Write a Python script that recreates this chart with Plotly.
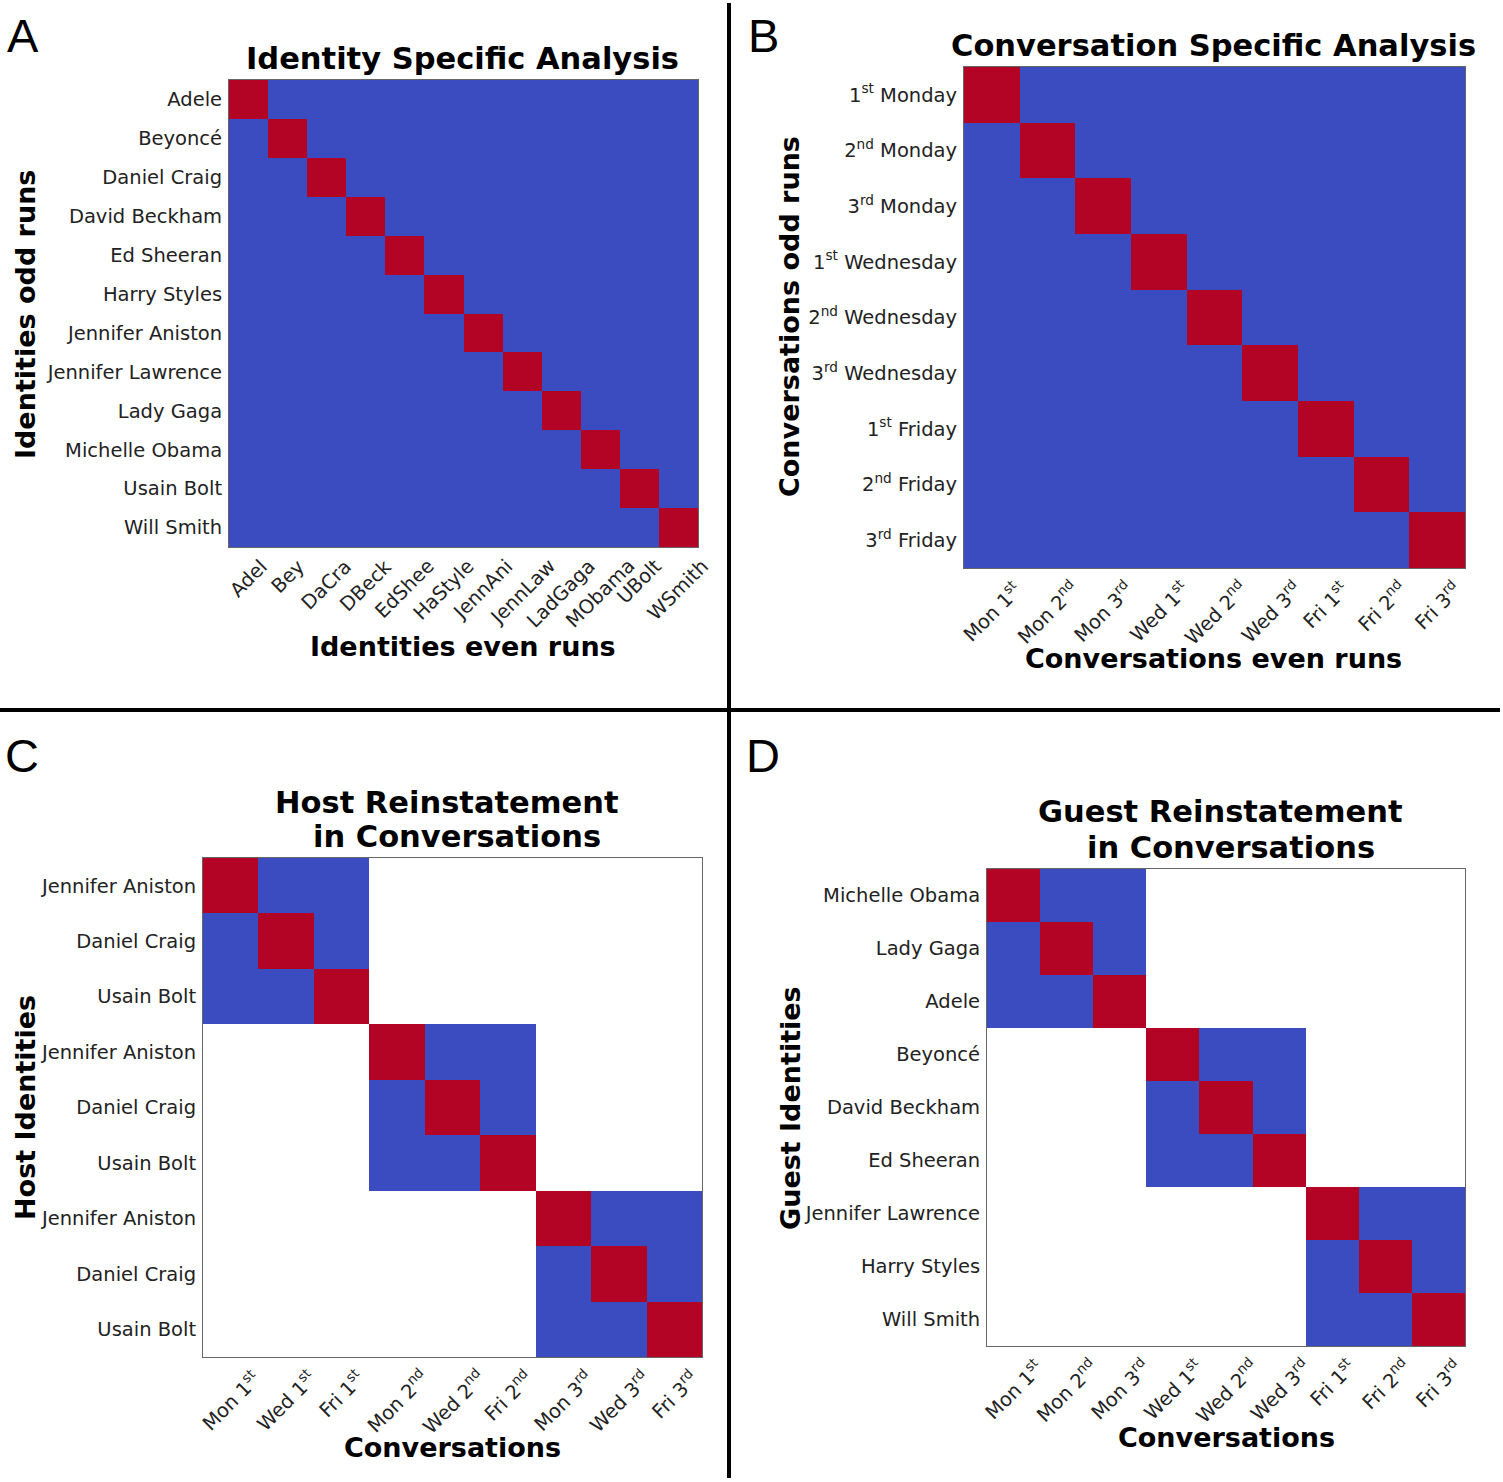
import plotly.graph_objects as go

W, H = 1503, 1482

# ---------------- data ----------------
id_rows = ["Adele", "Beyoncé", "Daniel Craig", "David Beckham", "Ed Sheeran", "Harry Styles",
           "Jennifer Aniston", "Jennifer Lawrence", "Lady Gaga", "Michelle Obama", "Usain Bolt", "Will Smith"]
id_cols = ["Adel", "Bey", "DaCra", "DBeck", "EdShee", "HaStyle", "JennAni", "JennLaw",
           "LadGaga", "MObama", "UBolt", "WSmith"]
id_z = [
    [1, 0, 0, 0, 0, 0, 0, 0, 0, 0, 0, 0],
    [0, 1, 0, 0, 0, 0, 0, 0, 0, 0, 0, 0],
    [0, 0, 1, 0, 0, 0, 0, 0, 0, 0, 0, 0],
    [0, 0, 0, 1, 0, 0, 0, 0, 0, 0, 0, 0],
    [0, 0, 0, 0, 1, 0, 0, 0, 0, 0, 0, 0],
    [0, 0, 0, 0, 0, 1, 0, 0, 0, 0, 0, 0],
    [0, 0, 0, 0, 0, 0, 1, 0, 0, 0, 0, 0],
    [0, 0, 0, 0, 0, 0, 0, 1, 0, 0, 0, 0],
    [0, 0, 0, 0, 0, 0, 0, 0, 1, 0, 0, 0],
    [0, 0, 0, 0, 0, 0, 0, 0, 0, 1, 0, 0],
    [0, 0, 0, 0, 0, 0, 0, 0, 0, 0, 1, 0],
    [0, 0, 0, 0, 0, 0, 0, 0, 0, 0, 0, 1],
]

conv_rows = ["1<sup>st</sup> Monday", "2<sup>nd</sup> Monday", "3<sup>rd</sup> Monday",
             "1<sup>st</sup> Wednesday", "2<sup>nd</sup> Wednesday", "3<sup>rd</sup> Wednesday",
             "1<sup>st</sup> Friday", "2<sup>nd</sup> Friday", "3<sup>rd</sup> Friday"]
conv_cols = ["Mon 1<sup>st</sup>", "Mon 2<sup>nd</sup>", "Mon 3<sup>rd</sup>",
             "Wed 1<sup>st</sup>", "Wed 2<sup>nd</sup>", "Wed 3<sup>rd</sup>",
             "Fri 1<sup>st</sup>", "Fri 2<sup>nd</sup>", "Fri 3<sup>rd</sup>"]
conv_z = [
    [1, 0, 0, 0, 0, 0, 0, 0, 0],
    [0, 1, 0, 0, 0, 0, 0, 0, 0],
    [0, 0, 1, 0, 0, 0, 0, 0, 0],
    [0, 0, 0, 1, 0, 0, 0, 0, 0],
    [0, 0, 0, 0, 1, 0, 0, 0, 0],
    [0, 0, 0, 0, 0, 1, 0, 0, 0],
    [0, 0, 0, 0, 0, 0, 1, 0, 0],
    [0, 0, 0, 0, 0, 0, 0, 1, 0],
    [0, 0, 0, 0, 0, 0, 0, 0, 1],
]

host_rows = ["Jennifer Aniston", "Daniel Craig", "Usain Bolt",
             "Jennifer Aniston", "Daniel Craig", "Usain Bolt",
             "Jennifer Aniston", "Daniel Craig", "Usain Bolt"]
host_cols = ["Mon 1<sup>st</sup>", "Wed 1<sup>st</sup>", "Fri 1<sup>st</sup>",
             "Mon 2<sup>nd</sup>", "Wed 2<sup>nd</sup>", "Fri 2<sup>nd</sup>",
             "Mon 3<sup>rd</sup>", "Wed 3<sup>rd</sup>", "Fri 3<sup>rd</sup>"]
N = None
host_z = [
    [1, 0, 0, N, N, N, N, N, N],
    [0, 1, 0, N, N, N, N, N, N],
    [0, 0, 1, N, N, N, N, N, N],
    [N, N, N, 1, 0, 0, N, N, N],
    [N, N, N, 0, 1, 0, N, N, N],
    [N, N, N, 0, 0, 1, N, N, N],
    [N, N, N, N, N, N, 1, 0, 0],
    [N, N, N, N, N, N, 0, 1, 0],
    [N, N, N, N, N, N, 0, 0, 1],
]

guest_rows = ["Michelle Obama", "Lady Gaga", "Adele", "Beyoncé", "David Beckham",
              "Ed Sheeran", "Jennifer Lawrence", "Harry Styles", "Will Smith"]
guest_cols = ["Mon 1<sup>st</sup>", "Mon 2<sup>nd</sup>", "Mon 3<sup>rd</sup>",
              "Wed 1<sup>st</sup>", "Wed 2<sup>nd</sup>", "Wed 3<sup>rd</sup>",
              "Fri 1<sup>st</sup>", "Fri 2<sup>nd</sup>", "Fri 3<sup>rd</sup>"]
guest_z = [
    [1, 0, 0, N, N, N, N, N, N],
    [0, 1, 0, N, N, N, N, N, N],
    [0, 0, 1, N, N, N, N, N, N],
    [N, N, N, 1, 0, 0, N, N, N],
    [N, N, N, 0, 1, 0, N, N, N],
    [N, N, N, 0, 0, 1, N, N, N],
    [N, N, N, N, N, N, 1, 0, 0],
    [N, N, N, N, N, N, 0, 1, 0],
    [N, N, N, N, N, N, 0, 0, 1],
]

BLUE = "#3B4CC0"
RED = "#B40426"
cscale = [[0, BLUE], [1, RED]]

# panel boxes in pixels: (left, top, right, bottom)
panels = [
    dict(z=id_z, rows=id_rows, cols=id_cols, box=(229, 80, 698, 547)),
    dict(z=conv_z, rows=conv_rows, cols=conv_cols, box=(964, 67, 1465, 568)),
    dict(z=host_z, rows=host_rows, cols=host_cols, box=(203, 858, 702, 1357)),
    dict(z=guest_z, rows=guest_rows, cols=guest_cols, box=(987, 869, 1465, 1346)),
]

fig = go.Figure()
layout = dict(width=W, height=H, margin=dict(l=0, r=0, t=0, b=0, autoexpand=False),
              paper_bgcolor="white", plot_bgcolor="white", showlegend=False)

TICKFONT = dict(family="DejaVu Sans", size=19.5, color="#222")
for i, p in enumerate(panels):
    n_r = len(p["rows"])
    n_c = len(p["cols"])
    xa = "x" if i == 0 else f"x{i+1}"
    ya = "y" if i == 0 else f"y{i+1}"
    fig.add_trace(go.Heatmap(
        z=p["z"], x=list(range(n_c)), y=list(range(n_r)),
        colorscale=cscale, zmin=0, zmax=1, showscale=False,
        xaxis=xa, yaxis=ya, hoverongaps=False,
    ))
    l, t, r, b = p["box"]
    xkey = "xaxis" if i == 0 else f"xaxis{i+1}"
    ykey = "yaxis" if i == 0 else f"yaxis{i+1}"
    layout[xkey] = dict(
        domain=[l / W, r / W], anchor=ya, range=[-0.5, n_c - 0.5],
        showticklabels=False, showgrid=False, zeroline=False, ticks="",
        showline=True, mirror=True, linecolor="#666", linewidth=1,
    )
    layout[ykey] = dict(
        domain=[1 - b / H, 1 - t / H], anchor=xa, range=[n_r - 0.5, -0.5],
        tickvals=list(range(n_r)), ticktext=p["rows"],
        tickfont=TICKFONT, showgrid=False, zeroline=False, ticks="",
        showline=True, mirror=True, linecolor="#666", linewidth=1,
        ticklabelstandoff=2,
    )
    # rotated column labels, centred on each column (matplotlib-style rotation)
    for j, lab in enumerate(p["cols"]):
        fig.add_annotation(
            x=j, y=n_r - 0.5, xref=xa, yref=ya, text=lab, showarrow=False,
            textangle=-45, xanchor="center", yanchor="top", yshift=-5,
            font=TICKFONT,
        )

fig.update_layout(**layout)

def px_ann(x, y, text, size, bold=True, angle=0, family="DejaVu Sans", xanchor="center"):
    fig.add_annotation(
        x=x / W, y=1 - y / H, xref="paper", yref="paper", text=f"<b>{text}</b>" if bold else text,
        showarrow=False, textangle=angle, xanchor=xanchor, yanchor="middle",
        font=dict(family=family, size=size, color="black"),
    )

TS = 30.5
AS = 27
# titles
px_ann(463, 58, "Identity Specific Analysis", TS)
px_ann(1213, 45, "Conversation Specific Analysis", TS)
px_ann(447, 802, "Host Reinstatement", TS)
px_ann(457, 836, "in Conversations", TS)
px_ann(1220, 812, "Guest Reinstatement", TS)
px_ann(1231, 847, "in Conversations", TS)
# axis titles
px_ann(463, 646, "Identities even runs", AS)
px_ann(25, 315, "Identities odd runs", AS, angle=-90)
px_ann(1213, 658, "Conversations even runs", AS)
px_ann(790, 317, "Conversations odd runs", AS, angle=-90)
px_ann(452, 1447, "Conversations", AS)
px_ann(25, 1108, "Host Identities", AS, angle=-90)
px_ann(1226, 1437, "Conversations", AS)
px_ann(790, 1108, "Guest Identities", AS, angle=-90)
# panel letters
for lx, ly, lt in [(23, 35, "A"), (763, 35, "B"), (22, 755, "C"), (763, 755, "D")]:
    px_ann(lx, ly, lt, 47, bold=False, family="Liberation Sans")

# divider lines
fig.add_shape(type="line", xref="paper", yref="paper", x0=729 / W, x1=729 / W,
              y0=1 - 1478 / H, y1=1 - 3 / H, line=dict(color="black", width=4))
fig.add_shape(type="line", xref="paper", yref="paper", x0=0, x1=1500 / W,
              y0=1 - 710 / H, y1=1 - 710 / H, line=dict(color="black", width=4))

fig.write_html("out.html")
